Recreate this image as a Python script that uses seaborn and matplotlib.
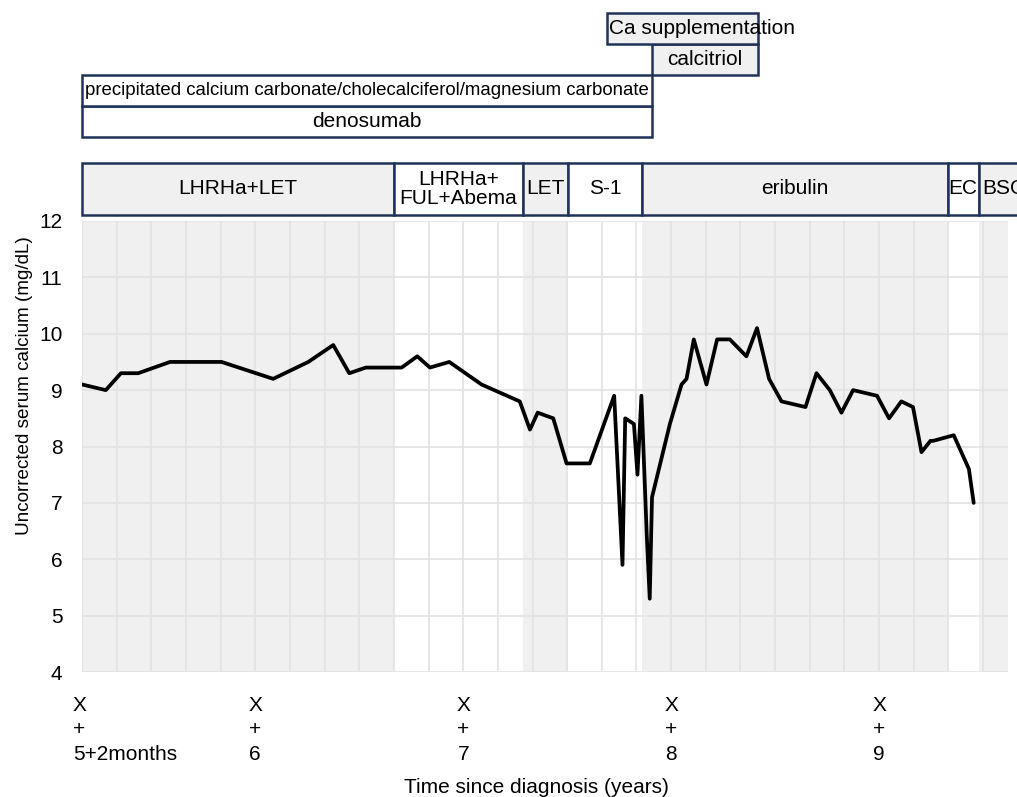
import numpy as np
import pandas as pd
import matplotlib
matplotlib.use("Agg")
import matplotlib.pyplot as plt
import matplotlib.transforms as mtransforms
from matplotlib.patches import Rectangle
from matplotlib.ticker import MultipleLocator
import seaborn as sns

# --- serum calcium time course (years since diagnosis, mg/dL) ---
time_years = [5.167, 5.281, 5.354, 5.437, 5.590, 5.838, 6.086, 6.255, 6.375, 6.452,
              6.532, 6.704, 6.779, 6.840, 6.933, 7.088, 7.272, 7.321, 7.358, 7.433,
              7.497, 7.609, 7.726, 7.766, 7.779, 7.821, 7.838, 7.857, 7.883, 7.897,
              7.908, 7.994, 8.050, 8.074, 8.109, 8.170, 8.221, 8.282, 8.362, 8.413,
              8.471, 8.531, 8.646, 8.699, 8.763, 8.819, 8.875, 8.990, 9.048, 9.107,
              9.163, 9.204, 9.247, 9.260, 9.359, 9.432, 9.455]
calcium = [9.1, 9.0, 9.3, 9.3, 9.5, 9.5, 9.2, 9.5, 9.8, 9.3,
           9.4, 9.4, 9.6, 9.4, 9.5, 9.1, 8.8, 8.3, 8.6, 8.5,
           7.7, 7.7, 8.9, 5.9, 8.5, 8.4, 7.5, 8.9, 6.4, 5.3,
           7.1, 8.4, 9.1, 9.2, 9.9, 9.1, 9.9, 9.9, 9.6, 10.1,
           9.2, 8.8, 8.7, 9.3, 9.0, 8.6, 9.0, 8.9, 8.5, 8.8,
           8.7, 7.9, 8.1, 8.1, 8.2, 7.6, 7.0]

# --- anticancer regimens ---
regimens = ["LHRHa+LET", "LHRHa+\nFUL+Abema", "LET", "S-1", "eribulin", "EC", "BSC"]
reg_start = [5.167, 6.667, 7.287, 7.503, 7.859, 9.330, 9.479]
reg_end = [6.667, 7.287, 7.503, 7.859, 9.330, 9.479, 9.720]
reg_shaded = [True, False, True, False, True, False, True]

# --- bone / calcium support drugs (row 0 = bottom) ---
support = ["denosumab", "precipitated calcium carbonate/cholecalciferol/magnesium carbonate",
           "calcitriol", "Ca supplementation"]
sup_start = [5.167, 5.167, 7.907, 7.691]
sup_end = [7.907, 7.907, 8.417, 8.417]
sup_shaded = [False, False, True, True]

xticks = [5.1667, 6, 7, 8, 9]
xticklabels = ["X\n+\n5+2months", "X\n+\n6", "X\n+\n7", "X\n+\n8", "X\n+\n9"]

XMIN, XMAX = 5.1667, 9.62
GRAY = "#f0f0f0"
NAVY = "#1f3358"
FS = 15

sns.set_style("white")
plt.rcParams["font.family"] = ["Liberation Sans", "DejaVu Sans"]
plt.rcParams.update({"text.color": "black", "axes.labelcolor": "black",
                     "xtick.color": "black", "ytick.color": "black"})

fig = plt.figure(figsize=(10.17, 7.97), dpi=100)
W, H = 1017, 797


def rect(x0, y0, x1, y1):
    return [x0 / W, 1 - y1 / H, (x1 - x0) / W, (y1 - y0) / H]


ax = fig.add_axes(rect(82, 221, 1008, 672))
df = pd.DataFrame({"t": time_years, "ca": calcium})

for s, e, sh in zip(reg_start, reg_end, reg_shaded):
    if sh:
        ax.axvspan(s, e, color=GRAY, lw=0, zorder=0)

sns.lineplot(data=df, x="t", y="ca", color="black", lw=2.7, ax=ax,
             estimator=None, sort=False, zorder=3)

ax.set_xlim(XMIN, XMAX)
ax.set_ylim(4, 12)
ax.set_yticks(range(4, 13))
ax.set_xticks(xticks)
ax.set_xticklabels(xticklabels, fontsize=FS, linespacing=1.38)
ax.xaxis.set_minor_locator(MultipleLocator(1 / 6))
ax.set_axisbelow(True)
ax.grid(True, which="both", axis="x", color="#e2e2e2", lw=1.2, zorder=0.5)
ax.grid(True, which="major", axis="y", color="#e2e2e2", lw=1.2, zorder=0.5)
ax.tick_params(axis="both", which="both", length=0)
ax.tick_params(axis="y", labelsize=FS, pad=14)
ax.tick_params(axis="x", pad=17)
for sp in ax.spines.values():
    sp.set_visible(False)
ax.set_xlabel("Time since diagnosis (years)", fontsize=FS, labelpad=6)
ax.set_ylabel("Uncorrected serum calcium (mg/dL)", fontsize=13.6)
ax.yaxis.set_label_coords(-0.053, 0.634)
ax.xaxis.set_label_coords(0.491, -0.235)

first = ax.get_xticklabels()[0]
first.set_horizontalalignment("left")
first.set_multialignment("left")
first.set_transform(first.get_transform() +
                    mtransforms.ScaledTranslation(-9 / 100, 0, fig.dpi_scale_trans))

# regimen boxes
axr = fig.add_axes(rect(82, 163, 1008, 215))
axr.set_xlim(XMIN, XMAX)
axr.set_ylim(0, 1)
axr.axis("off")
for name, s, e, sh in zip(regimens, reg_start, reg_end, reg_shaded):
    axr.add_patch(Rectangle((s, 0), e - s, 1, facecolor=GRAY if sh else "white",
                            edgecolor=NAVY, lw=1.8, clip_on=False))
    axr.text((s + e) / 2, 0.5, name, ha="center", va="center", fontsize=FS,
             linespacing=0.95, clip_on=False)

# support drug boxes
axs = fig.add_axes(rect(82, 13, 1008, 137))
axs.set_xlim(XMIN, XMAX)
axs.set_ylim(0, 4)
axs.axis("off")
for i, (name, s, e, sh) in enumerate(zip(support, sup_start, sup_end, sup_shaded)):
    axs.add_patch(Rectangle((s, i), e - s, 1, facecolor=GRAY if sh else "white",
                            edgecolor=NAVY, lw=1.8, clip_on=False))
    fs = 13.4 if name.startswith("precipitated") else FS
    if name == "Ca supplementation":
        axs.text(s + 0.012, i + 0.5, name, ha="left", va="center", fontsize=fs)
    else:
        axs.text((s + e) / 2, i + 0.5, name, ha="center", va="center", fontsize=fs)

fig.savefig("out.png", dpi=100)
